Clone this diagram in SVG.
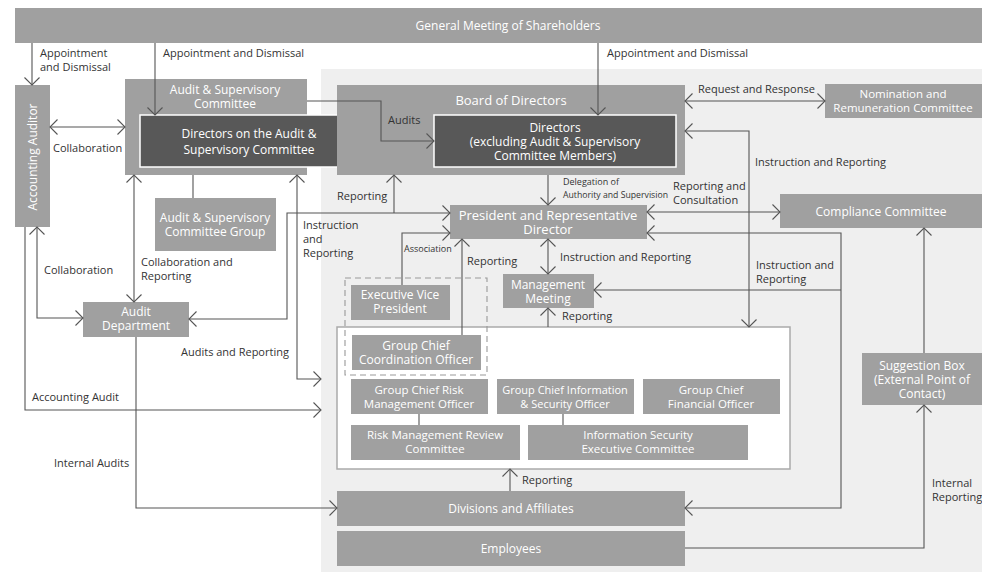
<svg xmlns="http://www.w3.org/2000/svg" width="982" height="574" viewBox="0 0 982 574">
<style>
.box{fill:#a0a0a0}
.dark{fill:#585858;stroke:#fff;stroke-width:1.5}
.bt{font-family:"Open Sans","Noto Sans",sans-serif;font-size:12px;fill:#fff;text-anchor:middle}
.bt13{font-size:13px}
.lb{font-family:"Open Sans","Noto Sans",sans-serif;font-size:11px;fill:#333}
.sm{font-size:9px}
.c{fill:none;stroke:#555;stroke-width:1.1}
.a2{marker-start:url(#ah);marker-end:url(#ah)}
.a1{marker-end:url(#ah)}
</style>
<defs>
<marker id="ah" viewBox="-9 -9 11 18" refX="0" refY="0" markerWidth="11" markerHeight="18" markerUnits="userSpaceOnUse" orient="auto-start-reverse">
<path d="M-7.5,-7.5 L0,0 L-7.5,7.5" fill="none" stroke="#555" stroke-width="1.1"/>
</marker>
</defs>
<rect width="982" height="574" fill="#fff"/>
<rect id="bg" x="321" y="69" width="661" height="503" fill="#efefef"/>
<g id="gms"><rect class="box" x="15" y="8" width="967" height="35"/><text class="bt" x="508" y="30">General Meeting of Shareholders</text></g>
<g id="acc-auditor"><rect class="box" x="15" y="85" width="35" height="142"/><text class="bt" transform="translate(37,157) rotate(-90)">Accounting Auditor</text></g>
<g id="asc"><rect class="box" x="125" y="79" width="182" height="96"/><text class="bt" x="225" y="94">Audit &amp; Supervisory</text><text class="bt" x="225" y="108">Committee</text></g>
<g id="asc-directors"><rect class="dark" x="140" y="115" width="218" height="52"/><text class="bt" x="249" y="138">Directors on the Audit &amp;</text><text class="bt" x="249" y="154">Supervisory Committee</text></g>
<g id="board"><rect class="box" x="337" y="85" width="348" height="90"/><text class="bt bt13" x="511" y="105">Board of Directors</text></g>
<g id="directors"><rect class="dark" x="434" y="115" width="242" height="52"/><text class="bt" x="555" y="132">Directors</text><text class="bt" x="555" y="146">(excluding Audit &amp; Supervisory</text><text class="bt" x="555" y="160">Committee Members)</text></g>
<g id="nomination"><rect class="box" x="825" y="84" width="157" height="34"/><text class="bt" x="903" y="98" style="font-size:11.5px">Nomination and</text><text class="bt" x="903" y="112" style="font-size:11.5px">Remuneration Committee</text></g>
<g id="compliance"><rect class="box" x="780" y="194" width="202" height="34"/><text class="bt" x="881" y="216">Compliance Committee</text></g>
<g id="president"><rect class="box" x="450" y="205" width="197" height="34"/><text class="bt bt13" x="548" y="220">President and Representative</text><text class="bt bt13" x="548" y="234">Director</text></g>
<g id="asc-group"><rect class="box" x="155" y="198" width="121" height="53"/><text class="bt" x="215" y="222">Audit &amp; Supervisory</text><text class="bt" x="215" y="236">Committee Group</text></g>
<g id="audit-dept"><rect class="box" x="83" y="302" width="106" height="35"/><text class="bt" x="136" y="316">Audit</text><text class="bt" x="136" y="330">Department</text></g>
<g id="mgmt-meeting"><rect class="box" x="503" y="274" width="91" height="34"/><text class="bt" x="548" y="289">Management</text><text class="bt" x="548" y="303">Meeting</text></g>
<g id="officers"><rect x="337" y="327" width="453" height="142" fill="#fff" stroke="#aaa" stroke-width="1.5"/></g>
<g id="exec-vp"><rect class="box" x="351" y="285" width="99" height="35"/><text class="bt" x="400" y="299">Executive Vice</text><text class="bt" x="400" y="313">President</text></g>
<g id="gcco"><rect class="box" x="352" y="335" width="129" height="35"/><text class="bt" x="416" y="350">Group Chief</text><text class="bt" x="416" y="364">Coordination Officer</text></g>
<rect id="dashed" x="345" y="278" width="142" height="97" fill="none" stroke="#999" stroke-width="1.1" stroke-dasharray="6 4"/>
<g id="gc-risk"><rect class="box" x="351" y="379" width="137" height="35"/><text class="bt" x="419" y="394" style="font-size:11.5px">Group Chief Risk</text><text class="bt" x="419" y="408" style="font-size:11.5px">Management Officer</text></g>
<g id="gc-info"><rect class="box" x="497" y="379" width="137" height="35"/><text class="bt" x="565" y="394" style="font-size:11px">Group Chief Information</text><text class="bt" x="565" y="408" style="font-size:11px">&amp; Security Officer</text></g>
<g id="gc-fin"><rect class="box" x="643" y="379" width="137" height="35"/><text class="bt" x="711" y="394" style="font-size:11.5px">Group Chief</text><text class="bt" x="711" y="408" style="font-size:11.5px">Financial Officer</text></g>
<g id="risk-committee"><rect class="box" x="351" y="425" width="169" height="35"/><text class="bt" x="435" y="439" style="font-size:11.5px">Risk Management Review</text><text class="bt" x="435" y="453" style="font-size:11.5px">Committee</text></g>
<g id="infosec-committee"><rect class="box" x="528" y="425" width="220" height="35"/><text class="bt" x="638" y="439" style="font-size:11.5px">Information Security</text><text class="bt" x="638" y="453" style="font-size:11.5px">Executive Committee</text></g>
<g id="suggestion"><rect class="box" x="862" y="353" width="120" height="52"/><text class="bt" x="922" y="370">Suggestion Box</text><text class="bt" x="922" y="384">(External Point of</text><text class="bt" x="922" y="398">Contact)</text></g>
<g id="divisions"><rect class="box" x="337" y="491" width="348" height="35"/><text class="bt" x="511" y="513">Divisions and Affiliates</text></g>
<g id="employees"><rect class="box" x="337" y="531" width="348" height="35"/><text class="bt" x="511" y="553">Employees</text></g>
<g id="connectors">
<path class="c a1" d="M32,43 V85"/>
<path class="c a1" d="M155,43 V115"/>
<path class="c a1" d="M598,43 V115"/>
<path class="c a2" d="M50,127 H125"/>
<path class="c a1" d="M307,101 H381 V141 H434"/>
<path class="c a2" d="M685,101 H825"/>
<path class="c a2" d="M685,131 H749 V327"/>
<path class="c a1" d="M548,175 V205"/>
<path class="c a2" d="M548,239 V274"/>
<path class="c a1" d="M548,327 V308"/>
<path class="c a2" d="M647,212 H780"/>
<path class="c a2" d="M647,233 H841 V508 H685"/>
<path class="c a1" d="M841,290 H594"/>
<path class="c a1" d="M924,353 V228"/>
<path class="c a1" d="M685,548 H924 V405"/>
<path class="c a1" d="M510,491 V469"/>
<path class="c a1" d="M462,335 V239"/>
<path class="c a1" d="M402,285 V233 H450"/>
<path class="c a2" d="M450,213 H287 V319 H189"/>
<path class="c a1" d="M394,213 V175"/>
<path class="c" d="M193,175 V198"/>
<path class="c a2" d="M134,175 V302"/>
<path class="c a2" d="M297,175 V379 H321"/>
<path class="c a2" d="M37,227 V318 H83"/>
<path class="c a1" d="M25,227 V410 H321"/>
<path class="c a1" d="M136,337 V508 H337"/>
<path class="c" d="M419,414 V425"/>
<path class="c" d="M563,414 V425"/>
</g>
<g id="labels">
<text class="lb" x="40" y="57">Appointment</text>
<text class="lb" x="40" y="71">and Dismissal</text>
<text class="lb" x="163" y="57">Appointment and Dismissal</text>
<text class="lb" x="607" y="57">Appointment and Dismissal</text>
<text class="lb" x="53" y="152">Collaboration</text>
<text class="lb" x="388" y="124">Audits</text>
<text class="lb" x="698" y="93">Request and Response</text>
<text class="lb" x="755" y="166">Instruction and Reporting</text>
<text class="lb" x="673" y="190">Reporting and</text>
<text class="lb" x="673" y="204">Consultation</text>
<text class="lb sm" x="563" y="185">Delegation of</text>
<text class="lb sm" x="563" y="198" textLength="105" lengthAdjust="spacingAndGlyphs">Authority and Supervision</text>
<text class="lb" x="337" y="200">Reporting</text>
<text class="lb" x="303" y="229">Instruction</text>
<text class="lb" x="303" y="243">and</text>
<text class="lb" x="303" y="257">Reporting</text>
<text class="lb sm" x="404" y="252">Association</text>
<text class="lb" x="467" y="265">Reporting</text>
<text class="lb" x="560" y="261">Instruction and Reporting</text>
<text class="lb" x="562" y="320">Reporting</text>
<text class="lb" x="756" y="269">Instruction and</text>
<text class="lb" x="756" y="283">Reporting</text>
<text class="lb" x="44" y="274">Collaboration</text>
<text class="lb" x="141" y="266">Collaboration and</text>
<text class="lb" x="141" y="280">Reporting</text>
<text class="lb" x="181" y="356">Audits and Reporting</text>
<text class="lb" x="32" y="401">Accounting Audit</text>
<text class="lb" x="54" y="467">Internal Audits</text>
<text class="lb" x="522" y="484">Reporting</text>
<text class="lb" x="932" y="487">Internal</text>
<text class="lb" x="932" y="501">Reporting</text>
</g>
</svg>
